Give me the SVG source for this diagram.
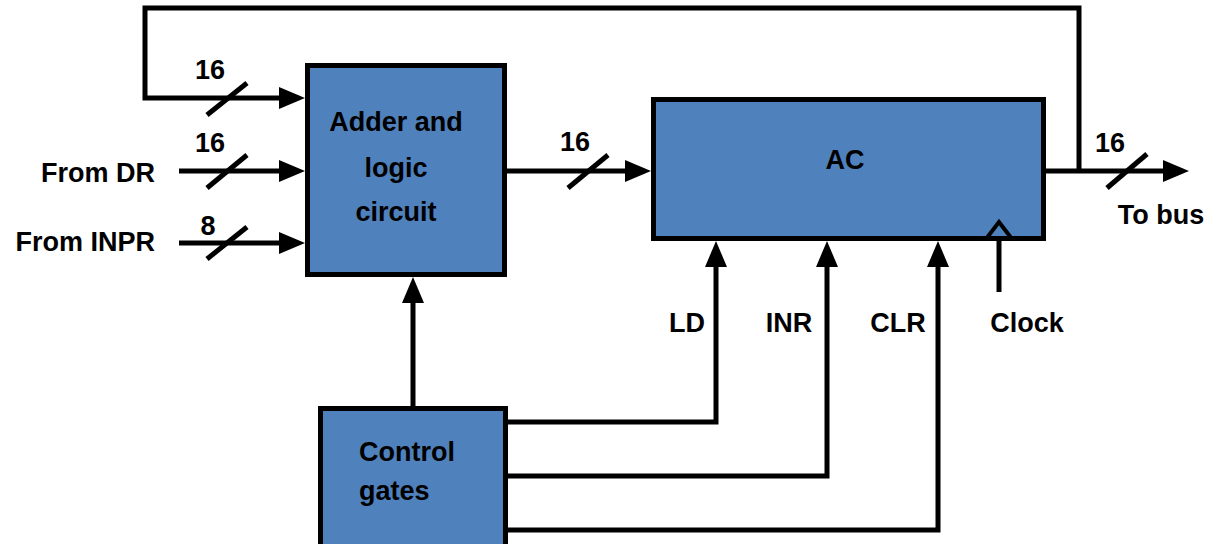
<svg xmlns="http://www.w3.org/2000/svg" width="1222" height="544" viewBox="0 0 1222 544">
<style>
.box{fill:#4F81BD;stroke:#000;stroke-width:5}
.w{fill:none;stroke:#000;stroke-width:5;stroke-linejoin:miter}
.sl{stroke:#000;stroke-width:5}
text{font-family:"Liberation Sans",Arial,sans-serif;font-weight:bold;font-size:27px;fill:#000}
.m{text-anchor:middle}
.e{text-anchor:end}
</style>
<defs>
<marker id="ah" markerUnits="userSpaceOnUse" markerWidth="26" markerHeight="22" refX="2" refY="11" orient="auto">
<path d="M0,0 L26,11 L0,22 z" fill="#000"/>
</marker>
</defs>
<rect width="1222" height="544" fill="#fff"/>
<g id="connectors">
<path class="w" d="M1079,171 V8 H145 V98 H281" marker-end="url(#ah)"/>
<path class="w" d="M179,171 H281" marker-end="url(#ah)"/>
<path class="w" d="M179,243 H281" marker-end="url(#ah)"/>
<path class="w" d="M507,171 H627" marker-end="url(#ah)"/>
<path class="w" d="M1046,171 H1165" marker-end="url(#ah)"/>
<path class="w" d="M413,406 V301" marker-end="url(#ah)"/>
<path class="w" d="M508,422 H716 V265" marker-end="url(#ah)"/>
<path class="w" d="M508,476 H827 V265" marker-end="url(#ah)"/>
<path class="w" d="M508,530 H938 V265" marker-end="url(#ah)"/>
<path class="w" d="M999,292 V241"/>
<line class="sl" x1="207" y1="115" x2="247" y2="83"/>
<line class="sl" x1="207" y1="188" x2="247" y2="155"/>
<line class="sl" x1="207" y1="259" x2="247" y2="227"/>
<line class="sl" x1="568" y1="188" x2="608" y2="155"/>
<line class="sl" x1="1107" y1="188" x2="1147" y2="154"/>
<text class="m" x="210" y="79">16</text>
<text class="m" x="210" y="152">16</text>
<text class="m" x="208" y="235">8</text>
<text class="m" x="575" y="151">16</text>
<text class="m" x="1110" y="152">16</text>
<text class="e" x="155" y="182">From DR</text>
<text class="e" x="155" y="251">From INPR</text>
<text class="m" x="1161" y="224">To bus</text>
<text class="m" x="687" y="332">LD</text>
<text class="m" x="789" y="332">INR</text>
<text class="m" x="898" y="332">CLR</text>
<text class="m" x="1027" y="332">Clock</text>
</g>
<g id="adder">
<rect class="box" x="307.5" y="65.5" width="197" height="209"/>
<text class="m" x="396" y="131">Adder and</text>
<text class="m" x="396" y="177">logic</text>
<text class="m" x="396" y="221">circuit</text>
</g>
<g id="ac">
<rect class="box" x="653.5" y="99.5" width="390" height="139"/>
<polyline points="986,239 999,222 1012,239" fill="none" stroke="#000" stroke-width="4"/>
<text class="m" x="845" y="169">AC</text>
</g>
<g id="control">
<rect class="box" x="320.5" y="408.5" width="185" height="140"/>
<text x="359" y="461">Control</text>
<text x="359" y="500">gates</text>
</g>
</svg>
